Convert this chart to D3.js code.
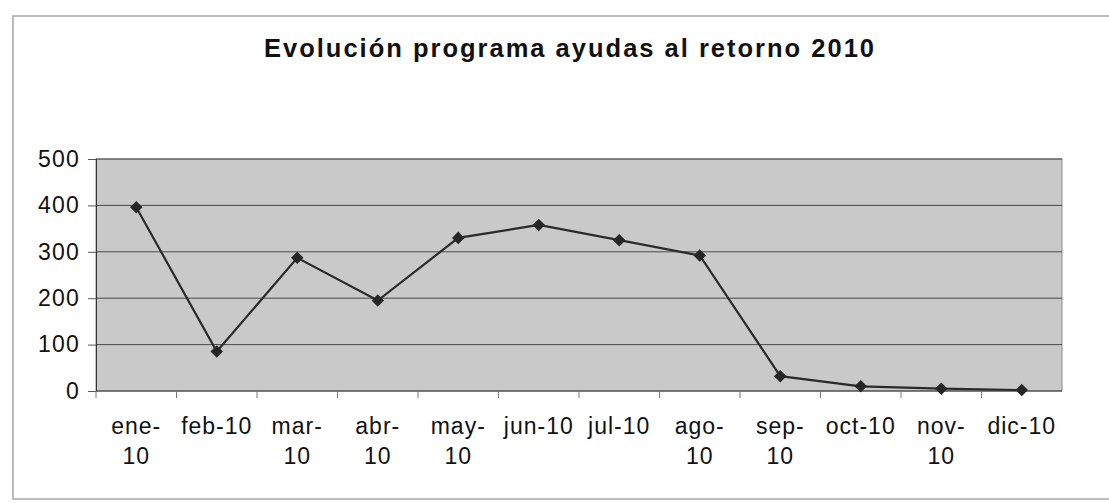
<!DOCTYPE html>
<html>
<head>
<meta charset="utf-8">
<script src="https://cdn.jsdelivr.net/npm/d3@7"></script>
<style>
    body { margin: 0; background: #fff; }
    svg { display: block; }
    text { font-family: "Liberation Sans", Arial, sans-serif; fill: #111; }
</style>
</head>
<body>
<div id="chart"></div>
<script>
//data
const months = ['ene-10', 'feb-10', 'mar-10', 'abr-10', 'may-10', 'jun-10',
    'jul-10', 'ago-10', 'sep-10', 'oct-10', 'nov-10', 'dic-10'];
const tickLines = [['ene-', '10'], ['feb-10'], ['mar-', '10'], ['abr-', '10'],
    ['may-', '10'], ['jun-10'], ['jul-10'], ['ago-', '10'], ['sep-', '10'],
    ['oct-10'], ['nov-', '10'], ['dic-10']];
const values = [396, 85, 287, 195, 330, 358, 325, 292, 32, 10, 5, 2];
const yTicks = [0, 100, 200, 300, 400, 500];

const title = 'Evolución programa ayudas al retorno 2010';

const width = 1109,
    height = 503;
const plot = { left: 96, right: 1062, top: 159, bottom: 391 };

const svg = d3.select('#chart').append('svg')
    .attr('width', width)
    .attr('height', height);

//outer chart frame (right side runs off the page)
svg.append('rect')
    .attr('x', 13).attr('y', 16)
    .attr('width', 1110).attr('height', 483)
    .attr('fill', 'none')
    .attr('stroke', '#a8a8a8')
    .attr('stroke-width', 1.5);

svg.append('text')
    .attr('x', 570).attr('y', 57)
    .attr('text-anchor', 'middle')
    .style('font-size', '25.5px')
    .style('font-weight', 'bold')
    .style('letter-spacing', '2px')
    .text(title);

const x = d3.scaleBand()
    .domain(months)
    .range([plot.left, plot.right]);

const y = d3.scaleLinear()
    .domain([0, 500])
    .range([plot.bottom, plot.top]);

//plot area
svg.append('rect')
    .attr('x', plot.left).attr('y', plot.top)
    .attr('width', plot.right - plot.left)
    .attr('height', plot.bottom - plot.top)
    .attr('fill', '#c9c9c9')
    .attr('stroke', '#8a8a8a')
    .attr('stroke-width', 1);

//gridlines
svg.append('g')
    .selectAll('line')
    .data(yTicks.filter(d => d > 0))
    .enter().append('line')
    .attr('x1', plot.left).attr('x2', plot.right)
    .attr('y1', d => y(d)).attr('y2', d => y(d))
    .attr('stroke', '#4a4a4a')
    .attr('stroke-width', 1);

//y axis
const yAxis = svg.append('g')
    .attr('transform', 'translate(' + plot.left + ',0)')
    .call(d3.axisLeft(y).tickValues(yTicks).tickSize(8).tickPadding(8));
yAxis.select('.domain').attr('stroke', '#333');
yAxis.selectAll('.tick line').attr('stroke', '#555');
yAxis.selectAll('.tick text')
    .style('font-size', '23px')
    .style('letter-spacing', '1.2px')
    .attr('font-family', null);

//x axis, ticks on band edges
const xAxis = svg.append('g')
    .attr('transform', 'translate(0,' + plot.bottom + ')');
xAxis.append('line')
    .attr('x1', plot.left).attr('x2', plot.right)
    .attr('stroke', '#333');
xAxis.selectAll('.edge')
    .data(months)
    .enter().append('line')
    .attr('class', 'edge')
    .attr('x1', d => x(d)).attr('x2', d => x(d))
    .attr('y1', 0).attr('y2', 7)
    .attr('stroke', '#777');

const labels = xAxis.selectAll('.lab')
    .data(months)
    .enter().append('text')
    .attr('class', 'lab')
    .attr('text-anchor', 'middle')
    .style('font-size', '23px')
    .style('letter-spacing', '1px');
labels.selectAll('tspan')
    .data((d, i) => tickLines[i].map(t => ({ t, m: d })))
    .enter().append('tspan')
    .attr('x', d => x(d.m) + x.bandwidth() / 2)
    .attr('y', (d, j) => 43 + j * 30)
    .text(d => d.t);

//line and markers
const line = d3.line()
    .x((d, i) => x(months[i]) + x.bandwidth() / 2)
    .y(d => y(d));

svg.append('path')
    .datum(values)
    .attr('d', line)
    .attr('fill', 'none')
    .attr('stroke', '#2a2a2a')
    .attr('stroke-width', 2.2);

svg.append('g')
    .selectAll('path')
    .data(values)
    .enter().append('path')
    .attr('d', d3.symbol().type(d3.symbolDiamond2).size(100))
    .attr('transform', (d, i) => 'translate(' + (x(months[i]) + x.bandwidth() / 2) + ',' + y(d) + ')')
    .attr('fill', '#262626');
</script>
</body>
</html>
